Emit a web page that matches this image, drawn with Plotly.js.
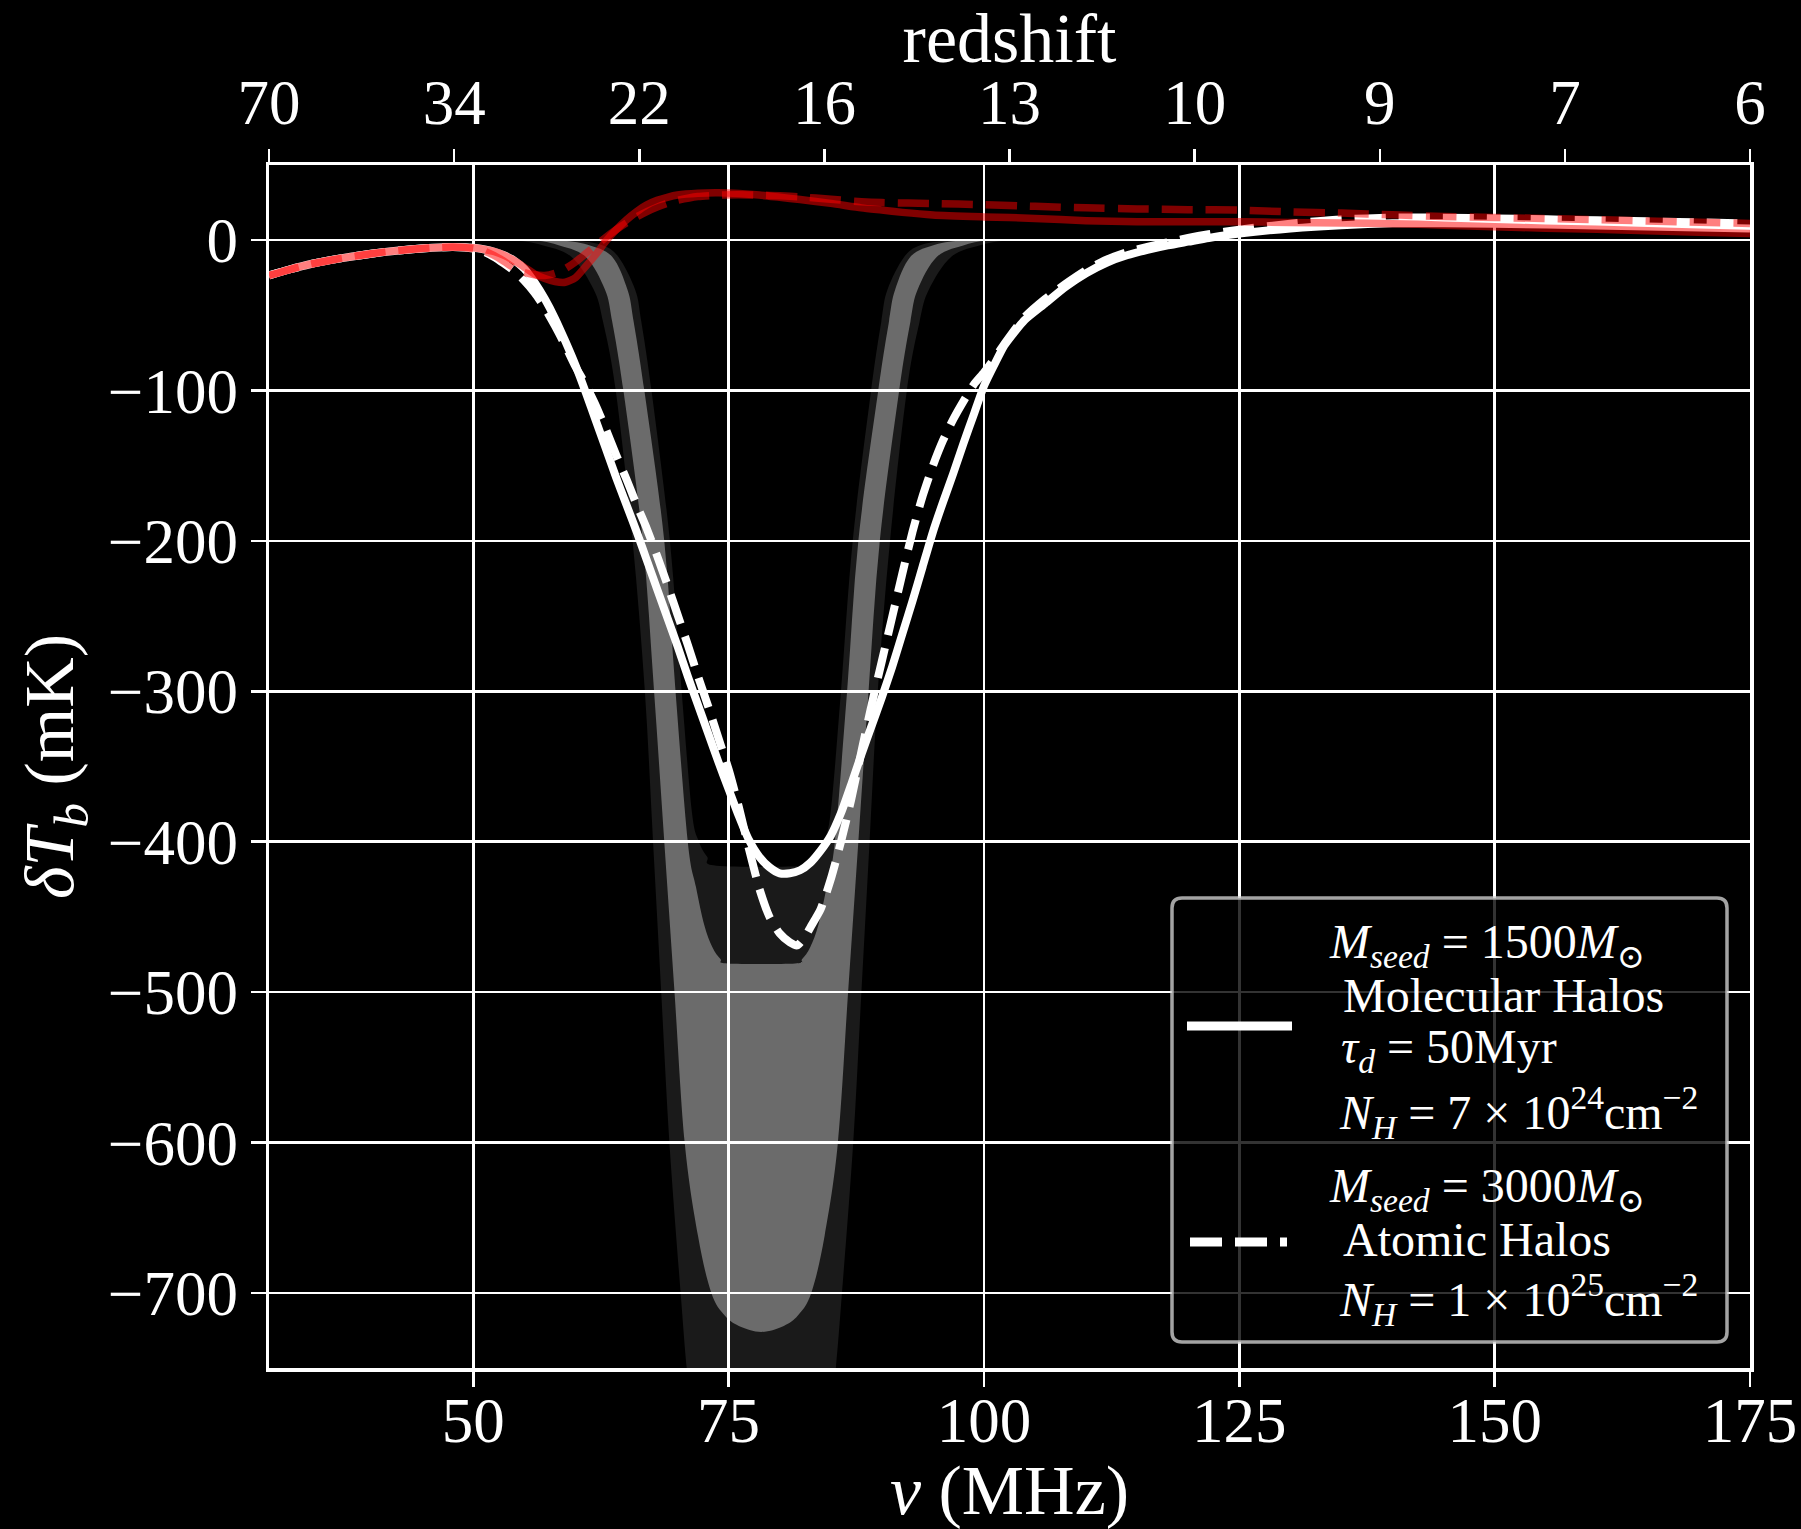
<!DOCTYPE html>
<html>
<head>
<meta charset="utf-8">
<script src="https://cdn.plot.ly/plotly-3.0.1.min.js"></script>
<style>
  html, body { margin: 0; padding: 0; background: #000; }
  #chart { width: 1801px; height: 1529px; }
</style>
</head>
<body>
<div id="chart"></div>
<script>
// ---------------- data ----------------
// bottom axis ticks (frequency, MHz)
const freqTicks = [50, 75, 100, 125, 150, 175];
// top axis: redshift labels at evenly spaced frequencies
const redshiftTickFreq = [30, 48.125, 66.25, 84.375, 102.5, 120.625, 138.75, 156.875, 175];
const redshiftLabels = ['70', '34', '22', '16', '13', '10', '9', '7', '6'];
const tempTicks = [0, -100, -200, -300, -400, -500, -600, -700];

// white solid: Mseed=1500, molecular halos
const nuSolid = [30,32,34,36,38,40,42,44,46,48,
  50,51,52,53,54,55,56,57,58,59,60,61,62,63,64,65,66,67,68,69,70,71,72,73,74,75,76,77,78,79,
  80,81,82,83,84,85,86,87,88,89,90,91,92,93,94,95,96,97,98,99,100,101,102,103,104,
  106,108,110,112,114,116,118,120,122,125,130,135,140,145,150,160,170,175];
const dTbSolid = [-23.5,-19.5,-16,-13.3,-11,-9,-7.3,-6,-5,-4.5,
  -5,-6,-7.5,-10,-13.5,-19,-28,-39,-52,-67,-83,-101,-120,-139,-158,-176,-194,-213,-232,-251,-270,-290,-309,-328,-347,-365,-383,-399,-410,-417,
  -421,-421,-419,-414,-406,-396,-381,-362,-342,-323,-304,-284,-262,-240,-217,-194,-174,-155,-135,-116,-97,-83,-70,-61,-53,
  -42,-31,-22,-15,-10,-6.5,-3.5,-1,1.5,4.4,7.8,10,11.2,11.3,11,9.8,8.5,7.8];

// white dashed: Mseed=3000, atomic halos
const nuDashed = [30,32,34,36,38,40,42,44,46,48,
  50,51,52,53,54,55,56,57,58,59,60,61,62,63,64,65,66,67,68,69,70,71,72,73,74,75,76,77,78,79,80,81,
  81.7,82.5,83,84,85,86,87,88,89,90,91,92,93,94,95,96,97,98,99,100,101,102,
  104,106,108,110,112,114,116,118,120,122,125,130,135,140,145,150,160,170,175];
const dTbDashed = [-23.5,-19.5,-16,-13.3,-11,-9,-7.3,-6,-5,-4.5,
  -5.5,-7.5,-11,-15.5,-20.5,-27,-35,-45,-57,-70,-84,-96,-110,-126,-143,-159,-176,-192,-210,-229,-249,-269,-290,-310,-331,-352,-377,-405,-431,-450,-461,-467,
  -469,-463,-457,-445,-425,-400,-372,-340,-309,-280,-251,-222,-194,-170,-150,-133,-119,-107,-96,-88,-79,-69,
  -51,-39,-29,-20,-13,-8,-4.5,-1.5,1.5,4,7,11,13.8,15,15,14.5,13.2,11.8,11];

// red solid (semi-transparent)
const nuRedSolid = [30,32,34,36,38,40,42,44,46,48,
  50,51,52,53,54,55,56,57,58,59,60,61,62,63,64,65,66,67,68,69,70,
  72,74,76,78,80,82,85,88,90,92,95,100,105,110,115,120,125,130,135,140,145,150,155,160,165,170,175];
const dTbRedSolid = [-23.5,-19.5,-16,-13.3,-11,-9,-7.3,-6,-5,-4.5,
  -5,-6,-7.5,-10,-13.5,-18,-22.5,-25.5,-27.5,-28,-25,-17.5,-9.5,-0.5,7,13.5,19,23.5,26.5,28.5,30,
  31.2,31.5,31,30,28.5,27,24.5,21.5,20,18.5,16.8,15.5,14.5,13,12.3,12.2,12.2,11.8,11.4,11,10,8.9,8,7.2,6.2,5.3,4.4];

// red dashed (semi-transparent)
const nuRedDashed = [30,32,34,36,38,40,42,44,46,48,
  50,51,52,53,54,55,56,57,58,59,60,61,62,63,64,65,66,67,68,69,70,
  72,74,76,78,80,82,85,88,90,95,100,105,110,115,120,125,130,135,140,145,150,160,170,175];
const dTbRedDashed = [-23.5,-19.5,-16,-13.3,-11,-9,-7.3,-6,-5,-4.5,
  -5.5,-7,-10,-14,-18.5,-21.5,-23,-23.5,-22,-19,-14.5,-9,-3.5,2,7,11.5,15.5,19,22,24.5,26.5,
  29,30,30.2,30,29.5,28.8,27.2,25.6,25,24.4,23.6,22.5,21.5,20.8,20.3,20,18.8,18,16.9,15.8,15.1,13.6,11.9,11.1];

// absorption-profile bands: outer (dark) and inner (light) regions, each bounded by two curves
const darkOuterNu = [54.2,56.6,59.6,61.8,62.7,63.95,65.6,66.8,67.6,68.4,69.2,70.3,70.9,71.7,73.0,78.2,
  83.4,84.7,85.5,86.1,87.2,88.0,88.8,89.6,90.8,92.45,93.7,94.6,96.8,99.8,102.2];
const darkOuterT = [0,-3,-11,-33,-54,-100,-200,-300,-400,-500,-600,-700,-750,-800,-850,-900,
  -850,-800,-750,-700,-600,-500,-400,-300,-200,-100,-54,-33,-11,-3,0];
const darkInnerNu = [59.7,62.5,64.2,65.85,66.45,67.45,69.25,70.4,71.4,72.1,72.9,73.8,
  82.6,83.5,84.3,85.0,86.0,87.15,88.95,89.95,90.55,92.2,93.9,96.7];
const darkInnerT = [0,-3,-11,-33,-54,-100,-200,-300,-380,-400,-410,-416,
  -416,-410,-400,-380,-300,-200,-100,-54,-33,-11,-3,0];
const lightOuterNu = [56.2,58.2,61.0,62.9,63.6,64.7,66.6,67.7,68.7,69.7,70.7,72.0,73.3,74.6,76.0,78.2,
  80.4,81.8,83.1,84.4,85.7,86.7,87.7,88.7,89.8,91.7,92.8,93.5,95.4,98.2,100.2];
const lightOuterT = [0,-3,-11,-33,-54,-100,-200,-300,-400,-500,-600,-662,-700,-715,-722,-726,
  -722,-715,-700,-662,-600,-500,-400,-300,-200,-100,-54,-33,-11,-3,0];
const lightInnerNu = [58.7,61.2,63.6,65.1,65.7,66.75,68.7,69.8,71.0,71.8,72.6,73.4,74.2,74.9,
  81.5,82.2,83.0,83.8,84.6,85.4,86.6,87.7,89.65,90.7,91.3,92.8,95.2,97.7];
const lightInnerT = [0,-3,-11,-33,-54,-100,-200,-300,-400,-430,-455,-470,-478,-481,
  -481,-478,-470,-455,-430,-400,-300,-200,-100,-54,-33,-11,-3,0];

const legendLines1 = [
  '<i>M</i><sub><i>seed</i></sub> = 1500<i>M</i><sub>⊙</sub>',
  'Molecular Halos',
  '<i>τ</i><sub><i>d</i></sub> = 50Myr',
  '<i>N</i><sub><i>H</i></sub> = 7 × 10<sup>24</sup>cm<sup>−2</sup>'
];
const legendLines2 = [
  '<i>M</i><sub><i>seed</i></sub> = 3000<i>M</i><sub>⊙</sub>',
  'Atomic Halos',
  '<i>N</i><sub><i>H</i></sub> = 1 × 10<sup>25</sup>cm<sup>−2</sup>'
];

// ---------------- build ----------------
const FONT = 'Liberation Serif, Times New Roman, DejaVu Serif, serif';

// smooth (Catmull-Rom -> cubic Bezier) path segments through the given points, in data units
function smoothSegs(xs, ys) {
  let d = '';
  const n = xs.length;
  for (let i = 0; i < n - 1; i++) {
    const i0 = Math.max(0, i - 1), i3 = Math.min(n - 1, i + 2);
    const c1x = xs[i] + (xs[i + 1] - xs[i0]) / 6, c1y = ys[i] + (ys[i + 1] - ys[i0]) / 6;
    const c2x = xs[i + 1] - (xs[i3] - xs[i]) / 6, c2y = ys[i + 1] - (ys[i3] - ys[i]) / 6;
    d += 'C' + c1x + ',' + c1y + ' ' + c2x + ',' + c2y + ' ' + xs[i + 1] + ',' + ys[i + 1];
  }
  return d;
}
function bandPath(outerX, outerY, innerX, innerY) {
  const ix = innerX.slice().reverse(), iy = innerY.slice().reverse();
  return 'M' + outerX[0] + ',' + outerY[0] + smoothSegs(outerX, outerY) +
    'L' + ix[0] + ',' + iy[0] + smoothSegs(ix, iy) + 'Z';
}

const W = 1801, H = 1529;
const M = {l: 269, r: 51, t: 165, b: 161};
const PW = W - M.l - M.r, PH = H - M.t - M.b;
const px2x = (px) => (px - M.l) / PW;
const px2y = (py) => (H - M.b - py) / PH;

const traces = [
  {x: nuSolid, y: dTbSolid, mode: 'lines', name: 'Molecular halos',
   line: {color: '#ffffff', width: 8, shape: 'spline', smoothing: 0.6}, hoverinfo: 'skip', showlegend: false},
  {x: nuDashed, y: dTbDashed, mode: 'lines', name: 'Atomic halos',
   line: {color: '#ffffff', width: 8, dash: '31px,13px', shape: 'spline', smoothing: 0.6}, hoverinfo: 'skip', showlegend: false},
  {x: nuRedSolid, y: dTbRedSolid, mode: 'lines', name: 'red solid',
   line: {color: 'rgba(255,0,0,0.5)', width: 7.5, shape: 'spline', smoothing: 0.6}, hoverinfo: 'skip', showlegend: false},
  {x: nuRedDashed, y: dTbRedDashed, mode: 'lines', name: 'red dashed',
   line: {color: 'rgba(255,0,0,0.5)', width: 7.5, dash: '31px,13px', shape: 'spline', smoothing: 0.6}, hoverinfo: 'skip', showlegend: false},
  // carrier for the top (redshift) axis
  {x: nuSolid, y: dTbSolid, xaxis: 'x2', mode: 'lines', opacity: 0, line: {width: 0},
   hoverinfo: 'skip', showlegend: false}
];

// legend box (rounded)
const bx0 = px2x(1172), bx1 = px2x(1727), by0 = px2y(1342), by1 = px2y(898);
const rx = 10 / PW, ry = 10 / PH;
const boxPath = 'M' + (bx0 + rx) + ',' + by0 + 'L' + (bx1 - rx) + ',' + by0 +
  'Q' + bx1 + ',' + by0 + ' ' + bx1 + ',' + (by0 + ry) + 'L' + bx1 + ',' + (by1 - ry) +
  'Q' + bx1 + ',' + by1 + ' ' + (bx1 - rx) + ',' + by1 + 'L' + (bx0 + rx) + ',' + by1 +
  'Q' + bx0 + ',' + by1 + ' ' + bx0 + ',' + (by1 - ry) + 'L' + bx0 + ',' + (by0 + ry) +
  'Q' + bx0 + ',' + by0 + ' ' + (bx0 + rx) + ',' + by0 + 'Z';

const shapes = [
  {type: 'path', xref: 'x', yref: 'y', layer: 'below',
   path: bandPath(darkOuterNu, darkOuterT, darkInnerNu, darkInnerT),
   fillcolor: '#1a1a1a', line: {width: 0}},
  {type: 'path', xref: 'x', yref: 'y', layer: 'below',
   path: bandPath(lightOuterNu, lightOuterT, lightInnerNu, lightInnerT),
   fillcolor: '#6b6b6b', line: {width: 0}},
  {type: 'path', xref: 'paper', yref: 'paper', layer: 'above', path: boxPath,
   fillcolor: 'rgba(0,0,0,0.8)', line: {color: 'rgba(204,204,204,0.8)', width: 3.5}},
  {type: 'line', xref: 'paper', yref: 'paper', layer: 'above',
   x0: px2x(1187), x1: px2x(1292), y0: px2y(1026), y1: px2y(1026),
   line: {color: '#ffffff', width: 9}},
  {type: 'line', xref: 'paper', yref: 'paper', layer: 'above',
   x0: px2x(1190), x1: px2x(1287), y0: px2y(1242), y1: px2y(1242),
   line: {color: '#ffffff', width: 9, dash: '32px,13px'}}
];

const lineX1 = [1327, 1341, 1339, 1337];
const lineY1 = [958, 1009, 1063, 1125];
const lineX2 = [1327, 1341, 1337];
const lineY2 = [1202, 1252, 1312];
const annotations = [];
function addLines(texts, xs, ys) {
  texts.forEach((t, i) => annotations.push({
    text: t, xref: 'paper', yref: 'paper', x: px2x(xs[i]), y: px2y(ys[i] - 13),
    xanchor: 'left', yanchor: 'middle', showarrow: false, align: 'left',
    font: {family: FONT, size: 48, color: '#ffffff'}
  }));
}
addLines(legendLines1, lineX1, lineY1);
addLines(legendLines2, lineX2, lineY2);

const axisCommon = {
  color: '#ffffff', ticks: 'outside', ticklen: 15, tickwidth: 2.5, tickcolor: '#ffffff',
  zeroline: false, tickfont: {family: FONT, size: 63, color: '#ffffff'}
};

const layout = {
  width: W, height: H,
  margin: M,
  paper_bgcolor: '#000000', plot_bgcolor: 'rgba(0,0,0,0)',
  showlegend: false, hovermode: false,
  xaxis: Object.assign({}, axisCommon, {
    range: [30, 175], tickmode: 'array', tickvals: freqTicks,
    showgrid: true, gridcolor: '#ffffff', gridwidth: 2.5,
    showline: true, linecolor: '#ffffff', linewidth: 3.5, mirror: true,
    ticklabelstandoff: -20,
    title: {text: '<i>ν</i> (MHz)', font: {family: FONT, size: 70, color: '#ffffff'}, standoff: 31}
  }),
  xaxis2: Object.assign({}, axisCommon, {
    overlaying: 'x', side: 'top', range: [30, 175], tickmode: 'array',
    tickvals: redshiftTickFreq, ticktext: redshiftLabels,
    showgrid: false, showline: false,
    title: {text: 'redshift', font: {family: FONT, size: 70, color: '#ffffff'}, standoff: 5}
  }),
  yaxis: Object.assign({}, axisCommon, {
    range: [-750, 50], tickmode: 'array', tickvals: tempTicks,
    showgrid: true, gridcolor: '#ffffff', gridwidth: 2.5,
    showline: true, linecolor: '#ffffff', linewidth: 3.5, mirror: true,
    ticklabelstandoff: 0,
    title: {text: '<i>δT</i><sub><i>b</i></sub> (mK)', font: {family: FONT, size: 70, color: '#ffffff'}, standoff: 12}
  }),
  shapes: shapes,
  annotations: annotations
};

Plotly.newPlot('chart', traces, layout, {displayModeBar: false, staticPlot: true});
</script>
</body>
</html>
